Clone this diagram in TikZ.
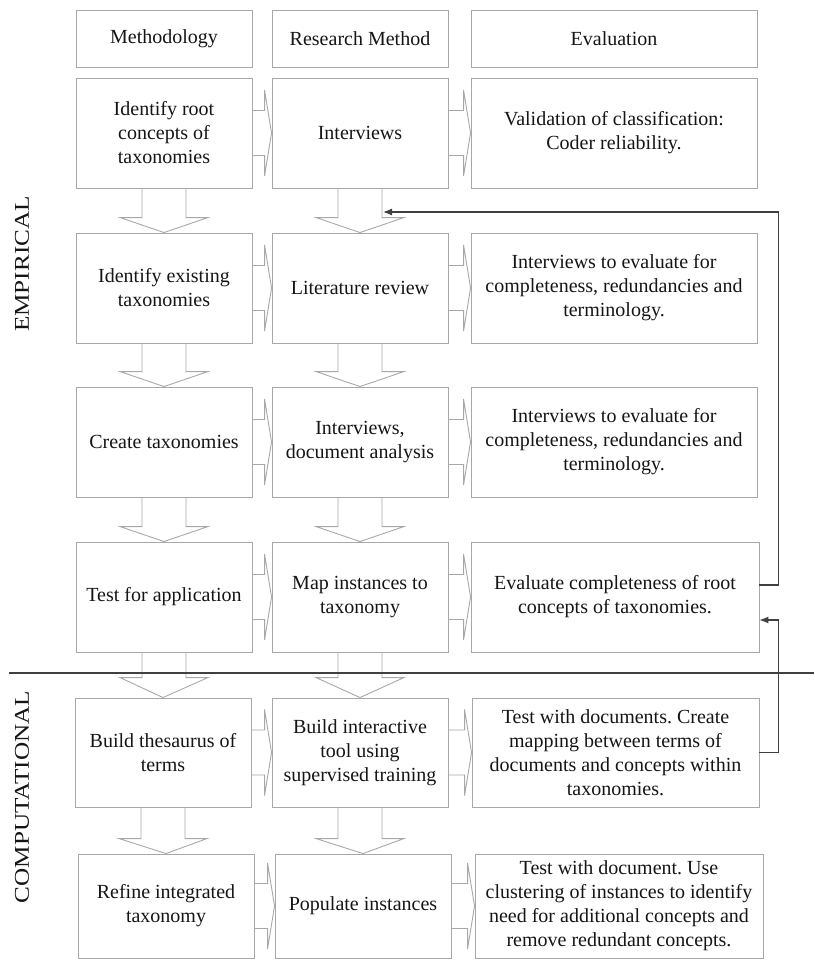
\documentclass[tikz,border=0pt]{standalone}
\usepackage{fontspec}
\setmainfont{Liberation Serif}
\newfontfamily\sidefont[FakeStretch=1.2]{Liberation Serif}
\usetikzlibrary{arrows.meta,calc}
\frenchspacing
\definecolor{boxline}{HTML}{A8A8A8}
\definecolor{txt}{HTML}{151515}
\definecolor{fbline}{HTML}{404040}
\tikzset{
  box/.style={draw=boxline, line width=0.9pt, align=center, text=txt, inner sep=2pt,
    font=\fontsize{20}{24}\selectfont},
  fat/.style={draw=boxline, line width=0.9pt, line join=miter},
  fb/.style={draw=fbline, line width=1.2pt, -{Latex[length=9pt,width=7pt]}},
  sidelabel/.style={rotate=90, text=txt, font=\sidefont\fontsize{21}{24}\selectfont},
}
\newcommand\mkbox[7]{% name x1 y1 x2 y2 text
  \node[box, minimum width=#4pt-#2pt, minimum height=#5pt-#3pt] (#1) at ({(#2+#4)/2},{(#3+#5)/2}) {#6};}
\newcommand\rarr[2]{%
  \draw[fat] let \p1=(#1.east), \p2=(#2.west) in
    (\x1,\y1+22.5pt) -- (\x2-7pt,\y1+22.5pt) -- (\x2-7pt,\y1+43pt) -- (\x2,\y2)
    -- (\x2-7pt,\y1-43pt) -- (\x2-7pt,\y1-22.5pt) -- (\x1,\y1-22.5pt);}
\newcommand\darr[3]{%
  \draw[fat] let \p1=(#1.south), \p2=(#2.north) in
    (\x1-22pt,\y1) -- (\x1-22pt,\y2+#3) -- (\x1-44pt,\y2+#3) -- (\x2,\y2)
    -- (\x1+44pt,\y2+#3) -- (\x1+22pt,\y2+#3) -- (\x1+22pt,\y1);}
\begin{document}
\begin{tikzpicture}[x=1pt,y=-1pt]
\useasboundingbox (0,0) rectangle (814,961);
% header
\mkbox{hM}{76}{10}{252}{67}{Methodology}{}
\mkbox{hR}{272}{10}{448}{67}{Research Method}{}
\mkbox{hE}{471}{10}{757}{67}{Evaluation}{}
% row 1
\mkbox{m1}{76}{78}{252}{188}{Identify root\\concepts of\\taxonomies}{}
\mkbox{r1}{272}{78}{448}{188}{Interviews}{}
\mkbox{e1}{471}{78}{757}{188}{Validation of classification:\\Coder reliability.}{}
% row 2
\mkbox{m2}{76}{233}{252}{343}{Identify existing\\taxonomies}{}
\mkbox{r2}{272}{233}{448}{343}{Literature review}{}
\mkbox{e2}{471}{233}{757}{343}{Interviews to evaluate for\\completeness, redundancies and\\terminology.}{}
% row 3
\mkbox{m3}{76}{387}{252}{497}{Create taxonomies}{}
\mkbox{r3}{272}{387}{448}{497}{Interviews,\\document analysis}{}
\mkbox{e3}{471}{387}{757}{497}{Interviews to evaluate for\\completeness, redundancies and\\terminology.}{}
% row 4
\mkbox{m4}{76}{542}{252}{652}{Test for application}{}
\mkbox{r4}{272}{542}{448}{652}{Map instances to\\taxonomy}{}
\mkbox{e4}{471}{542}{759}{652}{Evaluate completeness of root\\concepts of taxonomies.}{}
% row 5
\mkbox{m5}{75}{698}{251}{807}{Build thesaurus of\\terms}{}
\mkbox{r5}{272}{698}{448}{807}{Build interactive\\tool using\\supervised training}{}
\mkbox{e5}{472}{698}{759}{807}{Test with documents. Create\\mapping between terms of\\documents and concepts within\\taxonomies.}{}
% row 6
\mkbox{m6}{78}{854}{254}{958}{Refine integrated\\taxonomy}{}
\mkbox{r6}{275}{854}{451}{958}{Populate instances}{}
\mkbox{e6}{475}{854}{763}{958}{Test with document. Use\\clustering of instances to identify\\need for additional concepts and\\remove redundant concepts.}{}
% right arrows
\rarr{m1}{r1}\rarr{r1}{e1}
\rarr{m2}{r2}\rarr{r2}{e2}
\rarr{m3}{r3}\rarr{r3}{e3}
\rarr{m4}{r4}\rarr{r4}{e4}
\rarr{m5}{r5}\rarr{r5}{e5}
\rarr{m6}{r6}\rarr{r6}{e6}
% down arrows
\darr{m1}{m2}{15pt}\darr{r1}{r2}{15pt}
\darr{m2}{m3}{15pt}\darr{r2}{r3}{15pt}
\darr{m3}{m4}{15pt}\darr{r3}{r4}{15pt}
\darr{m4}{m5}{20pt}\darr{r4}{r5}{20pt}
\darr{m5}{m6}{15pt}\darr{r5}{r6}{15pt}
% separator
\draw[fbline, line width=1.2pt] (9,673) -- (814,673);
% side labels
\node[sidelabel] (emp) at (22,264) {EMPIRICAL};
\node[sidelabel] (comp) at (22,797) {COMPUTATIONAL};
% feedback connectors
\coordinate (fbtip) at (383,212);
\draw[fb] ([yshift=12pt]e4.east) -- ++(19pt,0) |- (fbtip);
\draw[fb] (e5.east) -- ++(19pt,0) |- ([yshift=-23pt]e4.east);
\end{tikzpicture}
\end{document}
